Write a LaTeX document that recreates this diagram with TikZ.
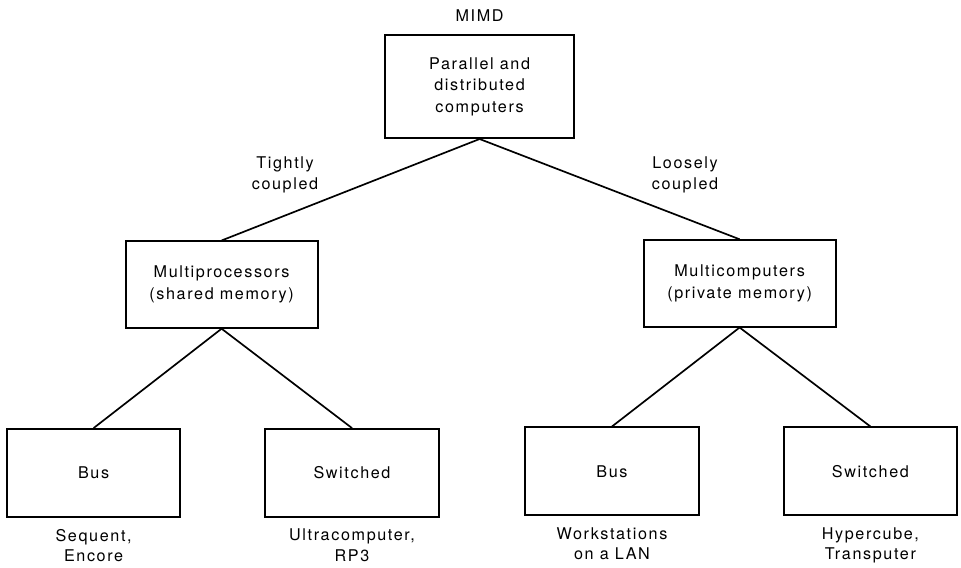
\documentclass[tikz,border=0pt]{standalone}
\usepackage{fontspec}
\setmainfont[LetterSpace=10]{TeX Gyre Heros}
\usepackage{tikz}
\usetikzlibrary{positioning}

\begin{document}
\begin{tikzpicture}[
  box/.style={
    draw, line width=1.3pt, align=center,
    font=\fontsize{11.5}{15.4}\selectfont
  },
  topbox/.style={box, minimum width=4.725cm, minimum height=2.575cm},
  midbox/.style={box, minimum width=4.8cm, minimum height=2.16cm},
  leafbox/.style={box, minimum width=4.33cm, minimum height=2.2cm},
  note/.style={align=center, inner sep=0pt,
    font=\fontsize{11.5}{14.6}\selectfont},
  link/.style={line width=1.2pt},
]

\useasboundingbox (0,0) rectangle (24.025,14.175);

%%% Root
\node[topbox] (root) at (11.99,12.01)
  {Parallel and\\distributed\\computers};
\node[note, above=0.3cm of root] (mimd) {MIMD};

%%% Second level
\node[midbox] (multiproc) at (5.54,7.06)
  {Multiprocessors\\(shared memory)};
\node[midbox] (multicomp) at (18.49,7.09)
  {Multicomputers\\(private memory)};

\node[note] (tight) at (7.125,9.8) {Tightly\\coupled};
\node[note] (loose) at (17.125,9.8) {Loosely\\coupled};

%%% Leaves
\node[leafbox] (busL) at (2.34,2.35) {Bus};
\node[leafbox] (swL) at (8.8,2.35) {Switched};
\node[leafbox] (busR) at (15.3,2.39) {Bus};
\node[leafbox] (swR) at (21.76,2.39) {Switched};

%%% Examples under the leaves
\node[note, below=0.27cm of busL] (exBusL) {Sequent,\\Encore};
\node[note, below=0.27cm of swL] (exSwL) {Ultracomputer,\\RP3};
\node[note, below=0.27cm of busR] (exBusR) {Workstations\\on a LAN};
\node[note, below=0.27cm of swR] (exSwR) {Hypercube,\\Transputer};

%%% Tree links
\draw[link] (root.south) -- (multiproc.north);
\draw[link] (root.south) -- (multicomp.north);
\draw[link] (multiproc.south) -- (busL.north);
\draw[link] (multiproc.south) -- (swL.north);
\draw[link] (multicomp.south) -- (busR.north);
\draw[link] (multicomp.south) -- (swR.north);

\end{tikzpicture}
\end{document}
